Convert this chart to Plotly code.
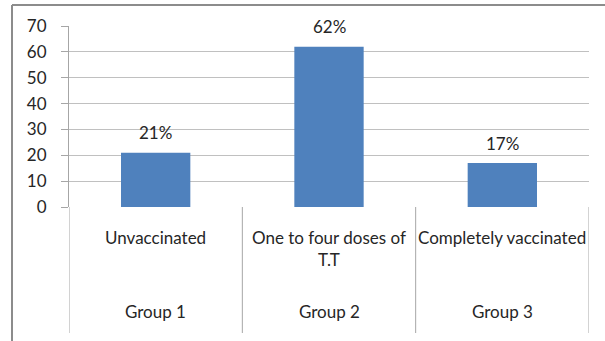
import plotly.graph_objects as go

# Vaccination status by group (percentage of respondents)
categories = ["Unvaccinated", "One to four doses of<br>T.T", "Completely vaccinated"]
groups = ["Group 1", "Group 2", "Group 3"]
values = [21, 62, 17]
y_ticks = [0, 10, 20, 30, 40, 50, 60, 70]

FONT = "Lato"
FS = 17
TEXT = "#262626"
GRID = "#c0c0c0"
LINE = "#a6a6a6"
BAR = "#4f81bd"

W, H = 605, 341
ML, MR, MT, MB = 69, 16, 26, 134
plot_w = W - ML - MR
plot_h = H - MT - MB


def py(px):
    """Convert a pixel row (from top) to paper y."""
    return (H - MB - px) / plot_h


def px_x(px):
    """Convert a pixel column (from left) to paper x."""
    return (px - ML) / plot_w


xs = list(range(len(values)))

fig = go.Figure(
    go.Bar(
        x=xs,
        y=values,
        marker=dict(color=BAR, line=dict(width=0)),
        width=0.4,
        hoverinfo="skip",
    )
)

annotations = []
# value labels above each bar
for x, v in zip(xs, values):
    annotations.append(dict(
        x=x, y=v, xref="x", yref="y", text=f"{v}%", showarrow=False,
        yshift=20, font=dict(family=FONT, size=FS, color=TEXT),
        xanchor="center", yanchor="middle",
    ))
# category labels and group labels below the axis
for x, c, g in zip(xs, categories, groups):
    annotations.append(dict(
        x=x, y=py(225), xref="x", yref="paper", text=c, showarrow=False,
        font=dict(family=FONT, size=FS, color=TEXT),
        xanchor="center", yanchor="top", align="center",
    ))
    annotations.append(dict(
        x=x, y=py(311), xref="x", yref="paper", text=g, showarrow=False,
        font=dict(family=FONT, size=FS, color=TEXT),
        xanchor="center", yanchor="middle",
    ))

shapes = []
# vertical dividers between categories
for b in [-0.5, 0.5, 1.5, 2.5]:
    shapes.append(dict(
        type="line", xref="x", yref="paper", x0=b, x1=b, y0=0, y1=py(333),
        line=dict(color=LINE, width=1),
    ))
# outer frame (top and left edges)
shapes.append(dict(type="line", xref="paper", yref="paper",
                   x0=px_x(12), x1=px_x(W + 5), y0=py(5), y1=py(5),
                   line=dict(color="#8c8c8c", width=2)))
shapes.append(dict(type="line", xref="paper", yref="paper",
                   x0=px_x(12), x1=px_x(12), y0=py(5), y1=py(H + 5),
                   line=dict(color="#8c8c8c", width=2)))

fig.update_layout(
    width=W, height=H,
    margin=dict(l=ML, r=MR, t=MT, b=MB, pad=0),
    paper_bgcolor="white", plot_bgcolor="white",
    showlegend=False,
    bargap=0.6,
    annotations=annotations,
    shapes=shapes,
    font=dict(family=FONT, size=FS, color=TEXT),
)
fig.update_xaxes(
    range=[-0.5, 2.5], showticklabels=False, showgrid=False,
    zeroline=False, showline=False, ticks="", fixedrange=True,
)
fig.update_yaxes(
    range=[0, 70], tickvals=y_ticks, ticktext=[str(t) for t in y_ticks],
    showgrid=True, gridcolor=GRID, gridwidth=1,
    zeroline=False, showline=True, linecolor=LINE, linewidth=1,
    ticks="outside", ticklen=7, tickcolor=LINE, ticklabelstandoff=11,
    tickfont=dict(family=FONT, size=FS, color=TEXT), fixedrange=True,
)

fig.write_html("out.html", config={"displayModeBar": False})
